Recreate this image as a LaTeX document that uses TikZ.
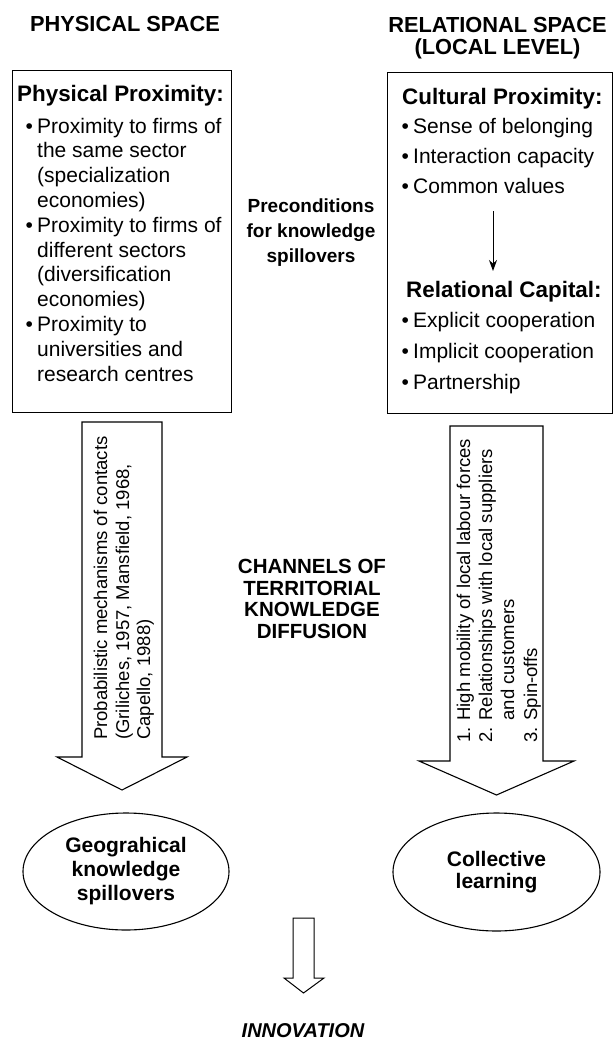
\documentclass[tikz,border=0pt]{standalone}
\usepackage{fontspec}
\setmainfont{Liberation Sans}
\usetikzlibrary{arrows.meta,shapes.geometric}
% bullet followed by a fixed gap, so item text lines up with continuation lines
\newcommand\bul{\makebox[11.5pt][l]{•}}
\begin{document}
\begin{tikzpicture}[x=1pt,y=-1pt,
  every node/.style={inner sep=0pt},
  outline/.style={draw=black,line width=1.1pt},
  title/.style={font=\fontsize{21.8}{22}\selectfont\bfseries,anchor=base},
  midtext/.style={font=\fontsize{19}{20}\selectfont\bfseries,anchor=base},
  chan/.style={font=\fontsize{20.5}{22}\selectfont\bfseries,anchor=base},
  bhead/.style={font=\fontsize{22.4}{24}\selectfont\bfseries,anchor=base west},
  bitem/.style={font=\fontsize{21}{24}\selectfont,anchor=base west},
  rot/.style={font=\fontsize{18.5}{20}\selectfont,rotate=90,anchor=base west},
  outcome/.style={outline,ellipse,align=center,font=\fontsize{21}{24}\selectfont\bfseries},
]
\useasboundingbox (0,0) rectangle (614,1041);

% column titles
\node[title] (ps) at (125,32) {PHYSICAL SPACE};
\node[title] (rs1) at (497.5,33) {RELATIONAL SPACE};
\node[title] (rs2) at (497.5,55) {(LOCAL LEVEL)};

% physical proximity box
\node[outline,anchor=north west,minimum width=219pt,minimum height=342pt] (pbox) at (12,70) {};
\node[bhead] (pp)   at (17,101)     {Physical Proximity:};
\node[bitem] (pp1)  at (25.5,133)   {\bul Proximity to firms of};
\node[bitem] (pp2)  at (37,157.8)   {the same sector};
\node[bitem] (pp3)  at (37,182.6)   {(specialization};
\node[bitem] (pp4)  at (37,207.4)   {economies)};
\node[bitem] (pp5)  at (25.5,232.2) {\bul Proximity to firms of};
\node[bitem] (pp6)  at (37,257)     {different sectors};
\node[bitem] (pp7)  at (37,281.8)   {(diversification};
\node[bitem] (pp8)  at (37,306.6)   {economies)};
\node[bitem] (pp9)  at (25.5,331.4) {\bul Proximity to};
\node[bitem] (pp10) at (37,356.2)   {universities and};
\node[bitem] (pp11) at (37,381)     {research centres};

% relational space box
\node[outline,anchor=north west,minimum width=225pt,minimum height=341pt] (rbox) at (387,72) {};
\node[bhead] (cp)  at (402,104)   {Cultural Proximity:};
\node[bitem] (cp1) at (401.5,133) {\bul Sense of belonging};
\node[bitem] (cp2) at (401.5,163) {\bul Interaction capacity};
\node[bitem] (cp3) at (401.5,193) {\bul Common values};
\node[bhead] (rc)  at (406,297)   {Relational Capital:};
\node[bitem] (rc1) at (401.5,327) {\bul Explicit cooperation};
\node[bitem] (rc2) at (401.5,358) {\bul Implicit cooperation};
\node[bitem] (rc3) at (401.5,389) {\bul Partnership};
\coordinate (cpend) at (493,211);
\coordinate (rctop) at (493,271);
\draw[line width=1pt,-{Stealth[length=11pt,width=8pt]}] (cpend) -- (rctop);

% middle labels
\node[midtext] (pre1) at (311,212) {Preconditions};
\node[midtext] (pre2) at (311,237) {for knowledge};
\node[midtext] (pre3) at (311,262) {spillovers};
\node[chan] (ch1) at (312,573) {CHANNELS OF};
\node[chan] (ch2) at (312,595) {TERRITORIAL};
\node[chan] (ch3) at (312,616) {KNOWLEDGE};
\node[chan] (ch4) at (312,638) {DIFFUSION};

% block arrows of the two diffusion channels
\draw[outline,line join=miter] (82,422) -- (162,422) -- (162,757) -- (187,757)
  -- (122,790) -- (57,757) -- (82,757) -- cycle;
\draw[outline,line join=miter] (450,426) -- (543,426) -- (543,761) -- (574,761)
  -- (496.5,795) -- (419,761) -- (450,761) -- cycle;
\node[rot] (la1) at (107,740) {Probabilistic mechanisms of contacts};
\node[rot] (la2) at (129,740) {(Griliches, 1957, Mansfield, 1968,};
\node[rot] (la3) at (150,740) {Capello, 1988)};
\node[rot] (ra1) at (470,743) {1. High mobility of local labour forces};
\node[rot] (ra2) at (492,743) {2. Relationships with local suppliers};
\node[rot] (ra3) at (514,743) {\phantom{2. }and customers};
\node[rot] (ra4) at (537,743) {3. Spin-offs};

% outcomes
\node[outcome,minimum width=206pt,minimum height=117pt] (gks) at (126,871.5)
  {Geograhical\\knowledge\\spillovers};
\node[outcome,minimum width=207pt,minimum height=118pt,font=\fontsize{21}{22}\selectfont\bfseries] (cl) at (496.5,872)
  {Collective\\learning};

% innovation
\draw[line width=1pt,line join=miter] (293,918) -- (314,918) -- (314,978) -- (324,978)
  -- (303.5,993) -- (284,978) -- (293,978) -- cycle;
\node[font=\fontsize{20}{22}\selectfont\bfseries\itshape,anchor=base] (inn) at (303,1037) {INNOVATION};
\end{tikzpicture}
\end{document}
